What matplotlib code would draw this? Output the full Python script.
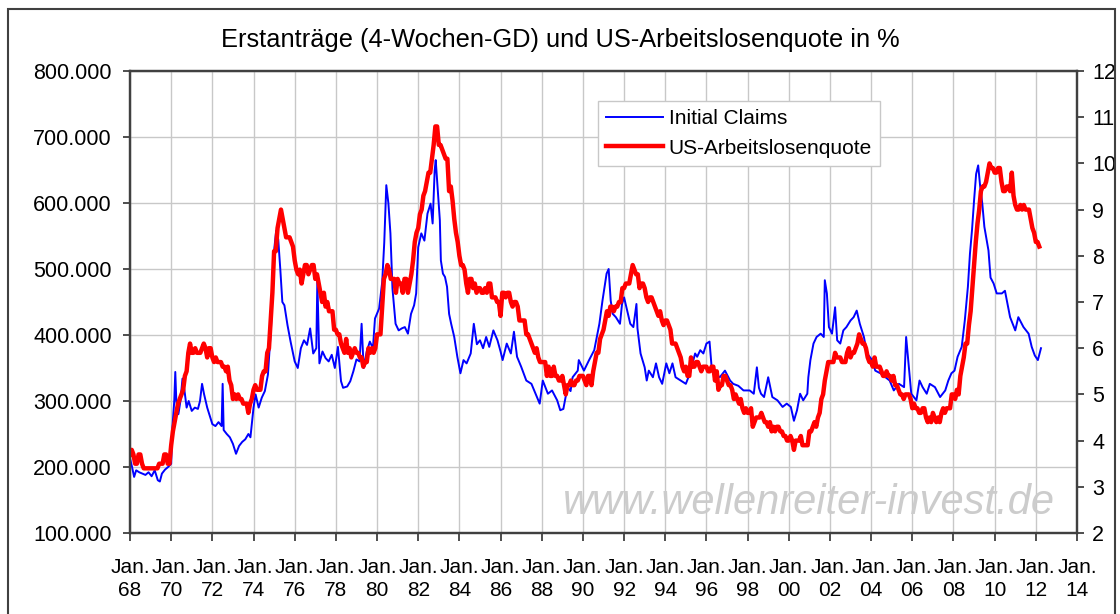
import numpy as np
import matplotlib.pyplot as plt
from matplotlib.patches import Rectangle

claims_years = [
    1968.0, 1968.1, 1968.2, 1968.3, 1968.45, 1968.6, 1968.75, 1968.9, 1969.05, 1969.2,
    1969.35, 1969.45, 1969.55, 1969.7, 1969.85, 1970.0, 1970.05, 1970.15, 1970.2, 1970.25,
    1970.35, 1970.45, 1970.55, 1970.65, 1970.75, 1970.85, 1971.0, 1971.15, 1971.3, 1971.4,
    1971.5, 1971.6, 1971.75, 1971.9, 1972.0, 1972.15, 1972.3, 1972.45, 1972.5, 1972.55,
    1972.7, 1972.85, 1973.0, 1973.15, 1973.3, 1973.45, 1973.6, 1973.75, 1973.85, 1974.0,
    1974.1, 1974.25, 1974.4, 1974.55, 1974.7, 1974.85, 1975.0, 1975.1, 1975.2, 1975.3,
    1975.4, 1975.5, 1975.65, 1975.8, 1976.0, 1976.15, 1976.3, 1976.45, 1976.6, 1976.75,
    1976.9, 1977.05, 1977.1, 1977.2, 1977.35, 1977.5, 1977.65, 1977.8, 1977.95, 1978.1,
    1978.25, 1978.35, 1978.55, 1978.7, 1978.85, 1979.0, 1979.15, 1979.25, 1979.35, 1979.5,
    1979.65, 1979.8, 1979.9, 1980.1, 1980.25, 1980.35, 1980.45, 1980.55, 1980.65, 1980.75,
    1980.9, 1981.05, 1981.2, 1981.35, 1981.5, 1981.65, 1981.8, 1981.9, 1982.0, 1982.15,
    1982.3, 1982.45, 1982.6, 1982.7, 1982.8, 1982.85, 1982.95, 1983.05, 1983.1, 1983.2,
    1983.3, 1983.4, 1983.5, 1983.6, 1983.75, 1983.9, 1984.05, 1984.2, 1984.35, 1984.55,
    1984.7, 1984.85, 1985.0, 1985.15, 1985.3, 1985.45, 1985.65, 1985.85, 1986.0, 1986.1,
    1986.3, 1986.5, 1986.65, 1986.8, 1987.0, 1987.25, 1987.5, 1987.7, 1987.9, 1988.05,
    1988.3, 1988.5, 1988.75, 1988.9, 1989.05, 1989.25, 1989.4, 1989.5, 1989.75, 1989.8,
    1990.05, 1990.3, 1990.55, 1990.8, 1990.95, 1991.05, 1991.15, 1991.25, 1991.35, 1991.45,
    1991.6, 1991.8, 1991.9, 1992.0, 1992.15, 1992.3, 1992.45, 1992.6, 1992.65, 1992.8,
    1993.0, 1993.1, 1993.2, 1993.4, 1993.55, 1993.7, 1993.85, 1994.05, 1994.2, 1994.35,
    1994.5, 1994.75, 1995.0, 1995.2, 1995.45, 1995.55, 1995.7, 1995.85, 1996.0, 1996.15,
    1996.25, 1996.4, 1996.65, 1996.9, 1997.15, 1997.3, 1997.55, 1997.8, 1998.1, 1998.3,
    1998.45, 1998.55, 1998.65, 1998.8, 1999.0, 1999.2, 1999.45, 1999.7, 1999.9, 2000.1,
    2000.25, 2000.4, 2000.55, 2000.7, 2000.9, 2000.95, 2001.05, 2001.2, 2001.35, 2001.55,
    2001.7, 2001.75, 2001.85, 2001.95, 2002.1, 2002.25, 2002.35, 2002.5, 2002.65, 2002.8,
    2003.0, 2003.15, 2003.3, 2003.45, 2003.65, 2003.8, 2004.05, 2004.2, 2004.45, 2004.7,
    2004.9, 2005.1, 2005.35, 2005.6, 2005.7, 2005.8, 2005.95, 2006.2, 2006.35, 2006.5,
    2006.7, 2006.85, 2007.1, 2007.35, 2007.6, 2007.75, 2007.9, 2008.05, 2008.2, 2008.4,
    2008.55, 2008.7, 2008.8, 2008.9, 2009.0, 2009.1, 2009.2, 2009.3, 2009.4, 2009.5,
    2009.7, 2009.8, 2009.95, 2010.1, 2010.35, 2010.5, 2010.75, 2011.0, 2011.15, 2011.4,
    2011.65, 2011.8, 2011.95, 2012.1, 2012.25,
]
claims_k = [
    213, 200, 185, 195, 192, 190, 188, 192, 186, 195,
    180, 178, 190, 196, 200, 205, 255, 300, 344, 300,
    280, 300, 334, 315, 290, 300, 285, 290, 288, 300,
    326, 310, 290, 275, 265, 262, 268, 262, 326, 256,
    250, 245, 235, 220, 232, 238, 242, 250, 245, 290,
    310, 290, 305, 315, 340, 412, 528, 558, 545, 500,
    450, 445, 415, 390, 360, 350, 380, 392, 385, 410,
    372, 380, 483, 357, 375, 365, 360, 370, 350, 382,
    330, 320, 322, 330, 345, 363, 360, 417, 350, 375,
    390, 380, 425, 440, 480, 540, 627, 600, 554, 470,
    417, 407, 410, 412, 402, 432, 445, 463, 533, 554,
    543, 584, 599, 569, 650, 665, 620, 574, 513, 493,
    488, 473, 432, 417, 397, 367, 342, 362, 357, 372,
    417, 386, 392, 380, 397, 382, 407, 392, 375, 362,
    387, 372, 405, 367, 352, 331, 326, 311, 296, 331,
    311, 316, 301, 286, 288, 321, 315, 336, 346, 362,
    346, 362, 377, 417, 452, 473, 493, 500, 452, 432,
    427, 417, 447, 457, 437, 417, 412, 447, 410, 372,
    351, 331, 346, 336, 357, 336, 326, 357, 342, 357,
    336, 331, 326, 342, 372, 367, 377, 372, 387, 390,
    352, 342, 336, 346, 331, 326, 323, 316, 316, 311,
    351, 320, 311, 306, 336, 306, 301, 291, 296, 291,
    270, 286, 311, 301, 311, 336, 362, 387, 397, 402,
    397, 483, 463, 412, 402, 442, 392, 387, 407, 412,
    422, 427, 437, 417, 397, 372, 362, 346, 342, 336,
    331, 316, 326, 321, 397, 362, 311, 301, 331, 321,
    311, 326, 321, 306, 316, 331, 342, 346, 367, 382,
    422, 473, 523, 559, 604, 644, 657, 624, 599, 564,
    528, 487, 478, 463, 463, 467, 427, 407, 427, 412,
    402, 382, 369, 362, 380,
]

# US-Arbeitslosenquote in %, monatlich ab Jan. 1968
unemployment = [
    3.7, 3.8, 3.7, 3.5, 3.5, 3.7, 3.7, 3.5, 3.4, 3.4, 3.4, 3.4,        # 1968
    3.4, 3.4, 3.4, 3.4, 3.4, 3.5, 3.5, 3.5, 3.7, 3.7, 3.5, 3.5,        # 1969
    3.9, 4.2, 4.4, 4.6, 4.8, 4.9, 5.0, 5.1, 5.4, 5.5, 5.9, 6.1,        # 1970
    5.9, 5.9, 6.0, 5.9, 5.9, 5.9, 6.0, 6.1, 6.0, 5.8, 6.0, 6.0,        # 1971
    5.8, 5.7, 5.8, 5.7, 5.7, 5.7, 5.6, 5.6, 5.5, 5.6, 5.3, 5.2,        # 1972
    4.9, 5.0, 4.9, 5.0, 4.9, 4.9, 4.8, 4.8, 4.8, 4.6, 4.8, 4.9,        # 1973
    5.1, 5.2, 5.1, 5.1, 5.1, 5.4, 5.5, 5.5, 5.9, 6.0, 6.6, 7.2,        # 1974
    8.1, 8.1, 8.6, 8.8, 9.0, 8.8, 8.6, 8.4, 8.4, 8.4, 8.3, 8.2,        # 1975
    7.9, 7.7, 7.6, 7.7, 7.4, 7.6, 7.8, 7.8, 7.6, 7.7, 7.8, 7.8,        # 1976
    7.5, 7.6, 7.4, 7.2, 7.0, 7.2, 6.9, 7.0, 6.8, 6.8, 6.8, 6.4,        # 1977
    6.4, 6.3, 6.3, 6.1, 6.0, 5.9, 6.2, 5.9, 6.0, 5.8, 5.9, 6.0,        # 1978
    5.9, 5.9, 5.8, 5.8, 5.6, 5.7, 5.7, 6.0, 5.9, 6.0, 5.9, 6.0,        # 1979
    6.3, 6.3, 6.3, 6.9, 7.5, 7.6, 7.8, 7.7, 7.5, 7.5, 7.5, 7.2,        # 1980
    7.5, 7.4, 7.4, 7.2, 7.5, 7.5, 7.2, 7.4, 7.6, 7.9, 8.3, 8.5,        # 1981
    8.6, 8.9, 9.0, 9.3, 9.4, 9.6, 9.8, 9.8, 10.1, 10.4, 10.8, 10.8,    # 1982
    10.4, 10.4, 10.3, 10.2, 10.1, 10.1, 9.4, 9.5, 9.2, 8.8, 8.5, 8.3,  # 1983
    8.0, 7.8, 7.8, 7.7, 7.4, 7.2, 7.5, 7.5, 7.3, 7.4, 7.2, 7.3,        # 1984
    7.3, 7.2, 7.2, 7.3, 7.2, 7.4, 7.4, 7.1, 7.1, 7.1, 7.0, 7.0,        # 1985
    6.7, 7.2, 7.2, 7.1, 7.2, 7.2, 7.0, 6.9, 7.0, 7.0, 6.9, 6.6,        # 1986
    6.6, 6.6, 6.6, 6.3, 6.3, 6.2, 6.1, 6.0, 5.9, 6.0, 5.8, 5.7,        # 1987
    5.7, 5.7, 5.7, 5.4, 5.6, 5.4, 5.4, 5.6, 5.4, 5.4, 5.3, 5.3,        # 1988
    5.4, 5.2, 5.0, 5.2, 5.2, 5.3, 5.2, 5.2, 5.3, 5.3, 5.4, 5.4,        # 1989
    5.4, 5.3, 5.2, 5.4, 5.4, 5.2, 5.5, 5.7, 5.9, 5.9, 6.2, 6.3,        # 1990
    6.4, 6.6, 6.8, 6.7, 6.9, 6.9, 6.8, 6.9, 6.9, 7.0, 7.0, 7.3,        # 1991
    7.3, 7.4, 7.4, 7.4, 7.6, 7.8, 7.7, 7.6, 7.6, 7.3, 7.4, 7.4,        # 1992
    7.3, 7.1, 7.0, 7.1, 7.1, 7.0, 6.9, 6.8, 6.7, 6.8, 6.6, 6.5,        # 1993
    6.6, 6.6, 6.5, 6.4, 6.1, 6.1, 6.1, 6.0, 5.9, 5.8, 5.6, 5.5,        # 1994
    5.6, 5.4, 5.4, 5.8, 5.6, 5.6, 5.7, 5.7, 5.6, 5.5, 5.6, 5.6,        # 1995
    5.6, 5.5, 5.5, 5.6, 5.6, 5.3, 5.5, 5.1, 5.2, 5.2, 5.4, 5.4,        # 1996
    5.3, 5.2, 5.2, 5.1, 4.9, 5.0, 4.9, 4.8, 4.9, 4.7, 4.6, 4.7,        # 1997
    4.6, 4.6, 4.7, 4.3, 4.4, 4.5, 4.5, 4.5, 4.6, 4.5, 4.4, 4.4,        # 1998
    4.3, 4.4, 4.2, 4.3, 4.2, 4.3, 4.3, 4.2, 4.2, 4.1, 4.1, 4.0,        # 1999
    4.0, 4.1, 4.0, 3.8, 4.0, 4.0, 4.0, 4.1, 3.9, 3.9, 3.9, 3.9,        # 2000
    4.2, 4.2, 4.3, 4.4, 4.3, 4.5, 4.6, 4.9, 5.0, 5.3, 5.5, 5.7,        # 2001
    5.7, 5.7, 5.7, 5.9, 5.8, 5.8, 5.8, 5.7, 5.7, 5.7, 5.9, 6.0,        # 2002
    5.8, 5.9, 5.9, 6.0, 6.1, 6.3, 6.2, 6.1, 6.1, 6.0, 5.8, 5.7,        # 2003
    5.7, 5.6, 5.8, 5.6, 5.6, 5.6, 5.5, 5.4, 5.4, 5.5, 5.4, 5.4,        # 2004
    5.3, 5.4, 5.2, 5.2, 5.1, 5.0, 5.0, 4.9, 5.0, 5.0, 5.0, 4.9,        # 2005
    4.7, 4.8, 4.7, 4.7, 4.6, 4.6, 4.7, 4.7, 4.5, 4.4, 4.5, 4.4,        # 2006
    4.6, 4.5, 4.4, 4.5, 4.4, 4.6, 4.7, 4.6, 4.7, 4.7, 4.7, 5.0,        # 2007
    5.0, 4.9, 5.1, 5.0, 5.4, 5.6, 5.8, 6.1, 6.1, 6.5, 6.8, 7.3,        # 2008
    7.8, 8.3, 8.7, 9.0, 9.4, 9.5, 9.5, 9.6, 9.8, 10.0, 9.9, 9.9,       # 2009
    9.8, 9.8, 9.9, 9.9, 9.6, 9.4, 9.4, 9.5, 9.5, 9.4, 9.8, 9.3,        # 2010
    9.1, 9.0, 9.0, 9.1, 9.0, 9.1, 9.0, 9.0, 9.0, 8.8, 8.6, 8.5,        # 2011
    8.3, 8.3, 8.2,                                                     # 2012
]

tick_years = list(range(1968, 2015, 2))
tick_labels = ['Jan.\n%02d' % (y % 100) for y in tick_years]
left_ticks = list(range(100000, 800001, 100000))
right_ticks = list(range(2, 13))

plt.rcParams['font.family'] = ['Liberation Sans', 'DejaVu Sans']

fig = plt.figure(figsize=(11.2, 6.14), dpi=100)
ax = fig.add_axes([130 / 1120, 81 / 614, 947 / 1120, 462 / 614])
ax2 = ax.twinx()

# Rahmen um die ganze Grafik
fig.patches.append(Rectangle((7.5 / 1120, -0.05), 1107 / 1120, 1.05 - 8.5 / 614,
                             transform=fig.transFigure, fill=False,
                             edgecolor='#404040', lw=1.5))

x_claims = np.array(claims_years)
y_claims = np.array(claims_k) * 1000
x_rate = 1968 + np.arange(len(unemployment)) / 12.0

ax.plot(x_claims, y_claims, color='#0000ff', lw=1.4, label='Initial Claims')
ax2.plot(x_rate, unemployment, color='#ff0000', lw=3.2, label='US-Arbeitslosenquote')

ax.set_xlim(1968, 2014)
ax.set_ylim(100000, 800000)
ax2.set_ylim(2, 12)

ax.set_xticks(tick_years)
ax.set_xticklabels(tick_labels, fontsize=15, linespacing=1.3)
ax.set_yticks(left_ticks)
ax.set_yticklabels([f'{v:,.0f}'.replace(',', '.') for v in left_ticks], fontsize=15.5)
ax2.set_yticks(right_ticks)
ax2.set_yticklabels([str(v) for v in right_ticks], fontsize=15.5)

ax.grid(True, color='#c8c8c8', lw=1)
ax.set_axisbelow(True)
for a in (ax, ax2):
    for s in a.spines.values():
        s.set_color('#404040')
        s.set_linewidth(1.6)
ax.tick_params(axis='x', length=6, width=1.3, color='#404040', pad=12)
ax.tick_params(axis='y', length=5, width=1.3, color='#404040', pad=8)
ax2.tick_params(axis='y', length=5, width=1.3, color='#404040', pad=6)

# Titel
fig.text(0.5, 1 - 40 / 614, 'Erstanträge (4-Wochen-GD) und US-Arbeitslosenquote in %',
         ha='center', va='center', fontsize=18.3)

# Wasserzeichen
fig.text(1055 / 1120, 1 - 503 / 614, 'www.wellenreiter-invest.de', ha='right', va='center',
         fontsize=30, style='italic', color='#cccccc')

# Legende
h1, l1 = ax.get_legend_handles_labels()
h2, l2 = ax2.get_legend_handles_labels()
leg = ax2.legend(h1 + h2, l1 + l2, loc='upper left',
                 bbox_to_anchor=(598 / 1120, 1 - 101 / 614), bbox_transform=fig.transFigure,
                 borderaxespad=0, fontsize=15, handlelength=2.7, handletextpad=0.3,
                 labelspacing=0.5, borderpad=0.4, fancybox=False, framealpha=1)
leg.get_frame().set_edgecolor('#c8c8c8')
leg.get_frame().set_linewidth(1)

fig.savefig('out.png', dpi=100)
